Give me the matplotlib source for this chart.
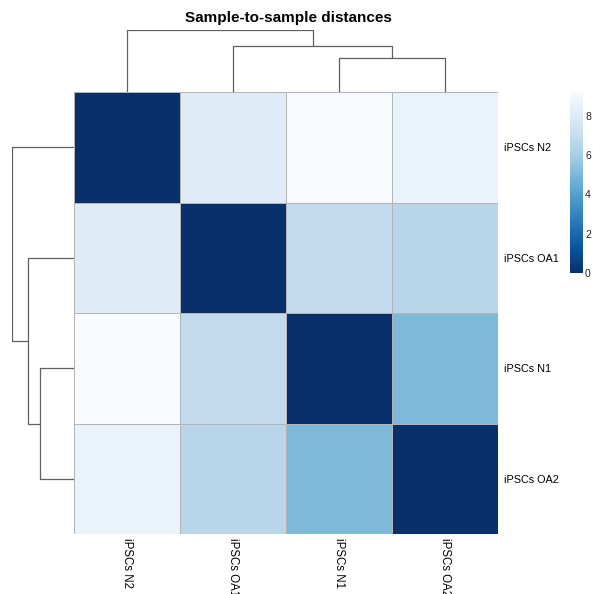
"""
Sample-to-sample distance heatmap with dendrograms
"""

import matplotlib
matplotlib.use("Agg")
import matplotlib.pyplot as plt
import numpy as np
from matplotlib.colors import LinearSegmentedColormap

# data (already in clustered order)
samples = ["iPSCs N2", "iPSCs OA1", "iPSCs N1", "iPSCs OA2"]
row_n2 = [0.0, 8.05, 9.2, 8.6]
row_oa1 = [8.05, 0.0, 6.8, 6.5]
row_n1 = [9.2, 6.8, 0.0, 5.05]
row_oa2 = [8.6, 6.5, 5.05, 0.0]
cbar_ticks = [0, 2, 4, 6, 8]

blues = ["#F7FBFF", "#DEEBF7", "#C6DBEF", "#9ECAE1", "#6BAED6",
         "#4292C6", "#2171B5", "#08519C", "#08306B"]


def complete_linkage(d):
	# returns list of (left, right, height) merges, clusters as leaf lists
	clusters = [[i] for i in range(len(d))]
	merges = []
	while len(clusters) > 1:
		best = None
		for a in range(len(clusters)):
			for b in range(a + 1, len(clusters)):
				h = max(d[i][j] for i in clusters[a] for j in clusters[b])
				if best is None or h < best[2]:
					best = (a, b, h)
		a, b, h = best
		merges.append((clusters[a], clusters[b], h))
		new = clusters[a] + clusters[b]
		clusters = [c for k, c in enumerate(clusters) if k not in (a, b)] + [new]
	return merges


def draw_dendro(ax, merges, orient):
	# leaf position = index in order; node position = mean of children nodes
	pos = {}
	hgt = {}
	for i in range(4):
		pos[(i,)] = i + 0.5
		hgt[(i,)] = 0.0
	for left, right, h in merges:
		kl, kr = tuple(left), tuple(right)
		xl, xr = pos[kl], pos[kr]
		hl, hr = hgt[kl], hgt[kr]
		xs = [xl, xl, xr, xr]
		ys = [hl, h, h, hr]
		if orient == "top":
			ax.plot(xs, ys, color="#606060", lw=0.9, solid_capstyle="butt")
		else:
			ax.plot(ys, xs, color="#606060", lw=0.9, solid_capstyle="butt")
		key = tuple(left + right)
		pos[key] = (xl + xr) / 2
		hgt[key] = h


if __name__ == "__main__":
	plt.rcParams["font.family"] = ["Liberation Sans", "DejaVu Sans"]
	dist = np.array([row_n2, row_oa1, row_n1, row_oa2])
	merges = complete_linkage(dist)
	maxh = merges[-1][2]

	cmap = LinearSegmentedColormap.from_list("blues_r", blues[::-1], N=255)

	W, H = 593, 594
	fig = plt.figure(figsize=(W / 100, H / 100), dpi=100)

	def px(x0, y0, x1, y1):
		return [x0 / W, 1 - y1 / H, (x1 - x0) / W, (y1 - y0) / H]

	# heatmap
	ax = fig.add_axes(px(74, 92, 498, 534))
	mesh = ax.pcolormesh(dist, cmap=cmap, vmin=dist.min(), vmax=dist.max(),
		edgecolors="#b4b4b4", linewidth=0.6)
	ax.set_xlim(0, 4)
	ax.set_ylim(4, 0)
	ax.set_xticks(np.arange(4) + 0.5)
	ax.set_xticklabels(samples, rotation=270, fontsize=8.3, va="top", ha="center")
	ax.set_yticks(np.arange(4) + 0.5)
	ax.set_yticklabels(samples, fontsize=7.8)
	ax.yaxis.tick_right()
	ax.tick_params(axis="y", length=0, pad=4)
	ax.tick_params(axis="x", length=0, pad=3)
	for s in ax.spines.values():
		s.set_visible(False)

	# column dendrogram
	axc = fig.add_axes(px(74, 30, 498, 92))
	draw_dendro(axc, merges, "top")
	axc.set_xlim(0, 4)
	axc.set_ylim(0, maxh)
	axc.axis("off")

	# row dendrogram
	axr = fig.add_axes(px(12, 92, 74, 534))
	draw_dendro(axr, merges, "left")
	axr.set_ylim(4, 0)
	axr.set_xlim(maxh, 0)
	axr.axis("off")

	# colorbar
	cax = fig.add_axes(px(570, 92, 583, 273))
	cb = fig.colorbar(mesh, cax=cax)
	cb.set_ticks(cbar_ticks)
	cb.outline.set_visible(False)
	cax.tick_params(length=0, labelsize=7.5, pad=1.5, colors="#222222")

	fig.text(288 / W, 1 - 18 / H, "Sample-to-sample distances", ha="center",
		va="center", fontsize=11, fontweight="bold")

	fig.savefig("out.png", dpi=100)
